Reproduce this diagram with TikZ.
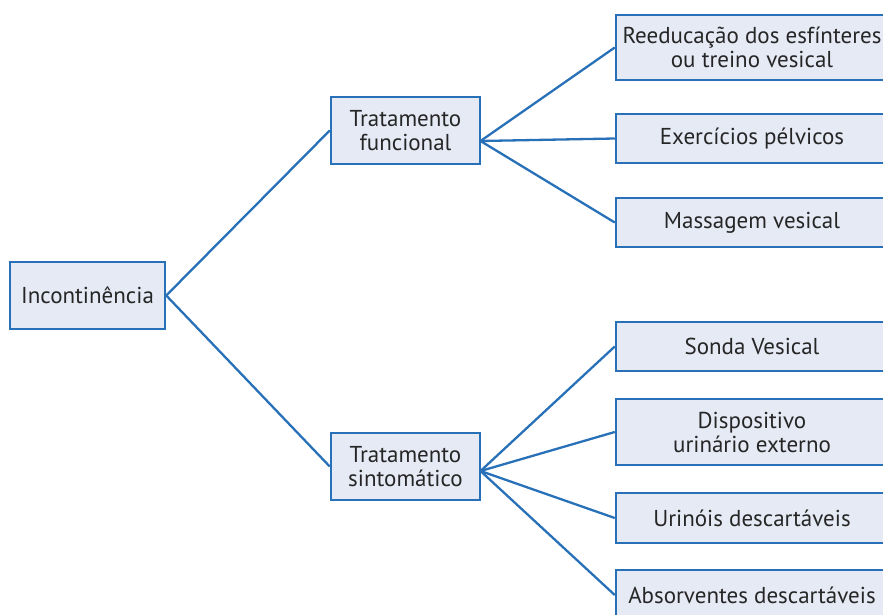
\documentclass[tikz,border=0pt]{standalone}
\usepackage{fontspec}
\setmainfont{PT Sans}
\usetikzlibrary{positioning}
\definecolor{azul}{RGB}{40,113,184}
\definecolor{fundo}{RGB}{230,234,245}

\begin{document}
\begin{tikzpicture}[x=1pt, y=-1pt, font=\fontsize{23}{24}\selectfont]
\tikzstyle{caixa}=[draw=azul, fill=fundo, line width=2.5pt, align=center, inner sep=0pt, text=black!85]
\tikzstyle{folha}=[caixa, minimum width=272, minimum height=49]
\tikzstyle{linha}=[draw=azul, line width=2.3pt]
\useasboundingbox (0,0) rectangle (883,615);
\clip (0,0) rectangle (883,615);

\node[caixa, minimum width=155, minimum height=67] (inc) at (87.5,295.5) {Incontinência};
\node[caixa, minimum width=149, minimum height=67] (fun) at (405.5,130.5) {Tratamento\\funcional};
\node[caixa, minimum width=149, minimum height=67] (sin) at (405.5,466.5) {Tratamento\\sintomático};

% tratamento funcional
\node[folha, minimum height=65] (f1) at (752,47.5) {Reeducação dos esfínteres\\ou treino vesical};
\node[folha] (f2) at (752,138.5) {Exercícios pélvicos};
\node[folha] (f3) at (752,222.5) {Massagem vesical};

% tratamento sintomatico
\node[folha] (s1) at (752,346.5) {Sonda Vesical};
\node[folha, minimum height=66] (s2) at (752,432) {Dispositivo\\urinário externo};
\node[folha, minimum height=50] (s3) at (752,518) {Urinóis descartáveis};
\node[folha, minimum height=50] (s4) at (752,595) {Absorventes descartáveis};

\coordinate (fr) at (480.5,141);
\coordinate (sr) at (480.5,471);

\path[linha]
(inc.east) edge (fun.west)
(inc.east) edge (sin.west)
(fr) edge (f1.west)
(fr) edge (f2.west)
(fr) edge (f3.west)
(sr) edge (s1.west)
(sr) edge (s2.west)
(sr) edge (s3.west)
(sr) edge (s4.west)
;
\end{tikzpicture}
\end{document}
